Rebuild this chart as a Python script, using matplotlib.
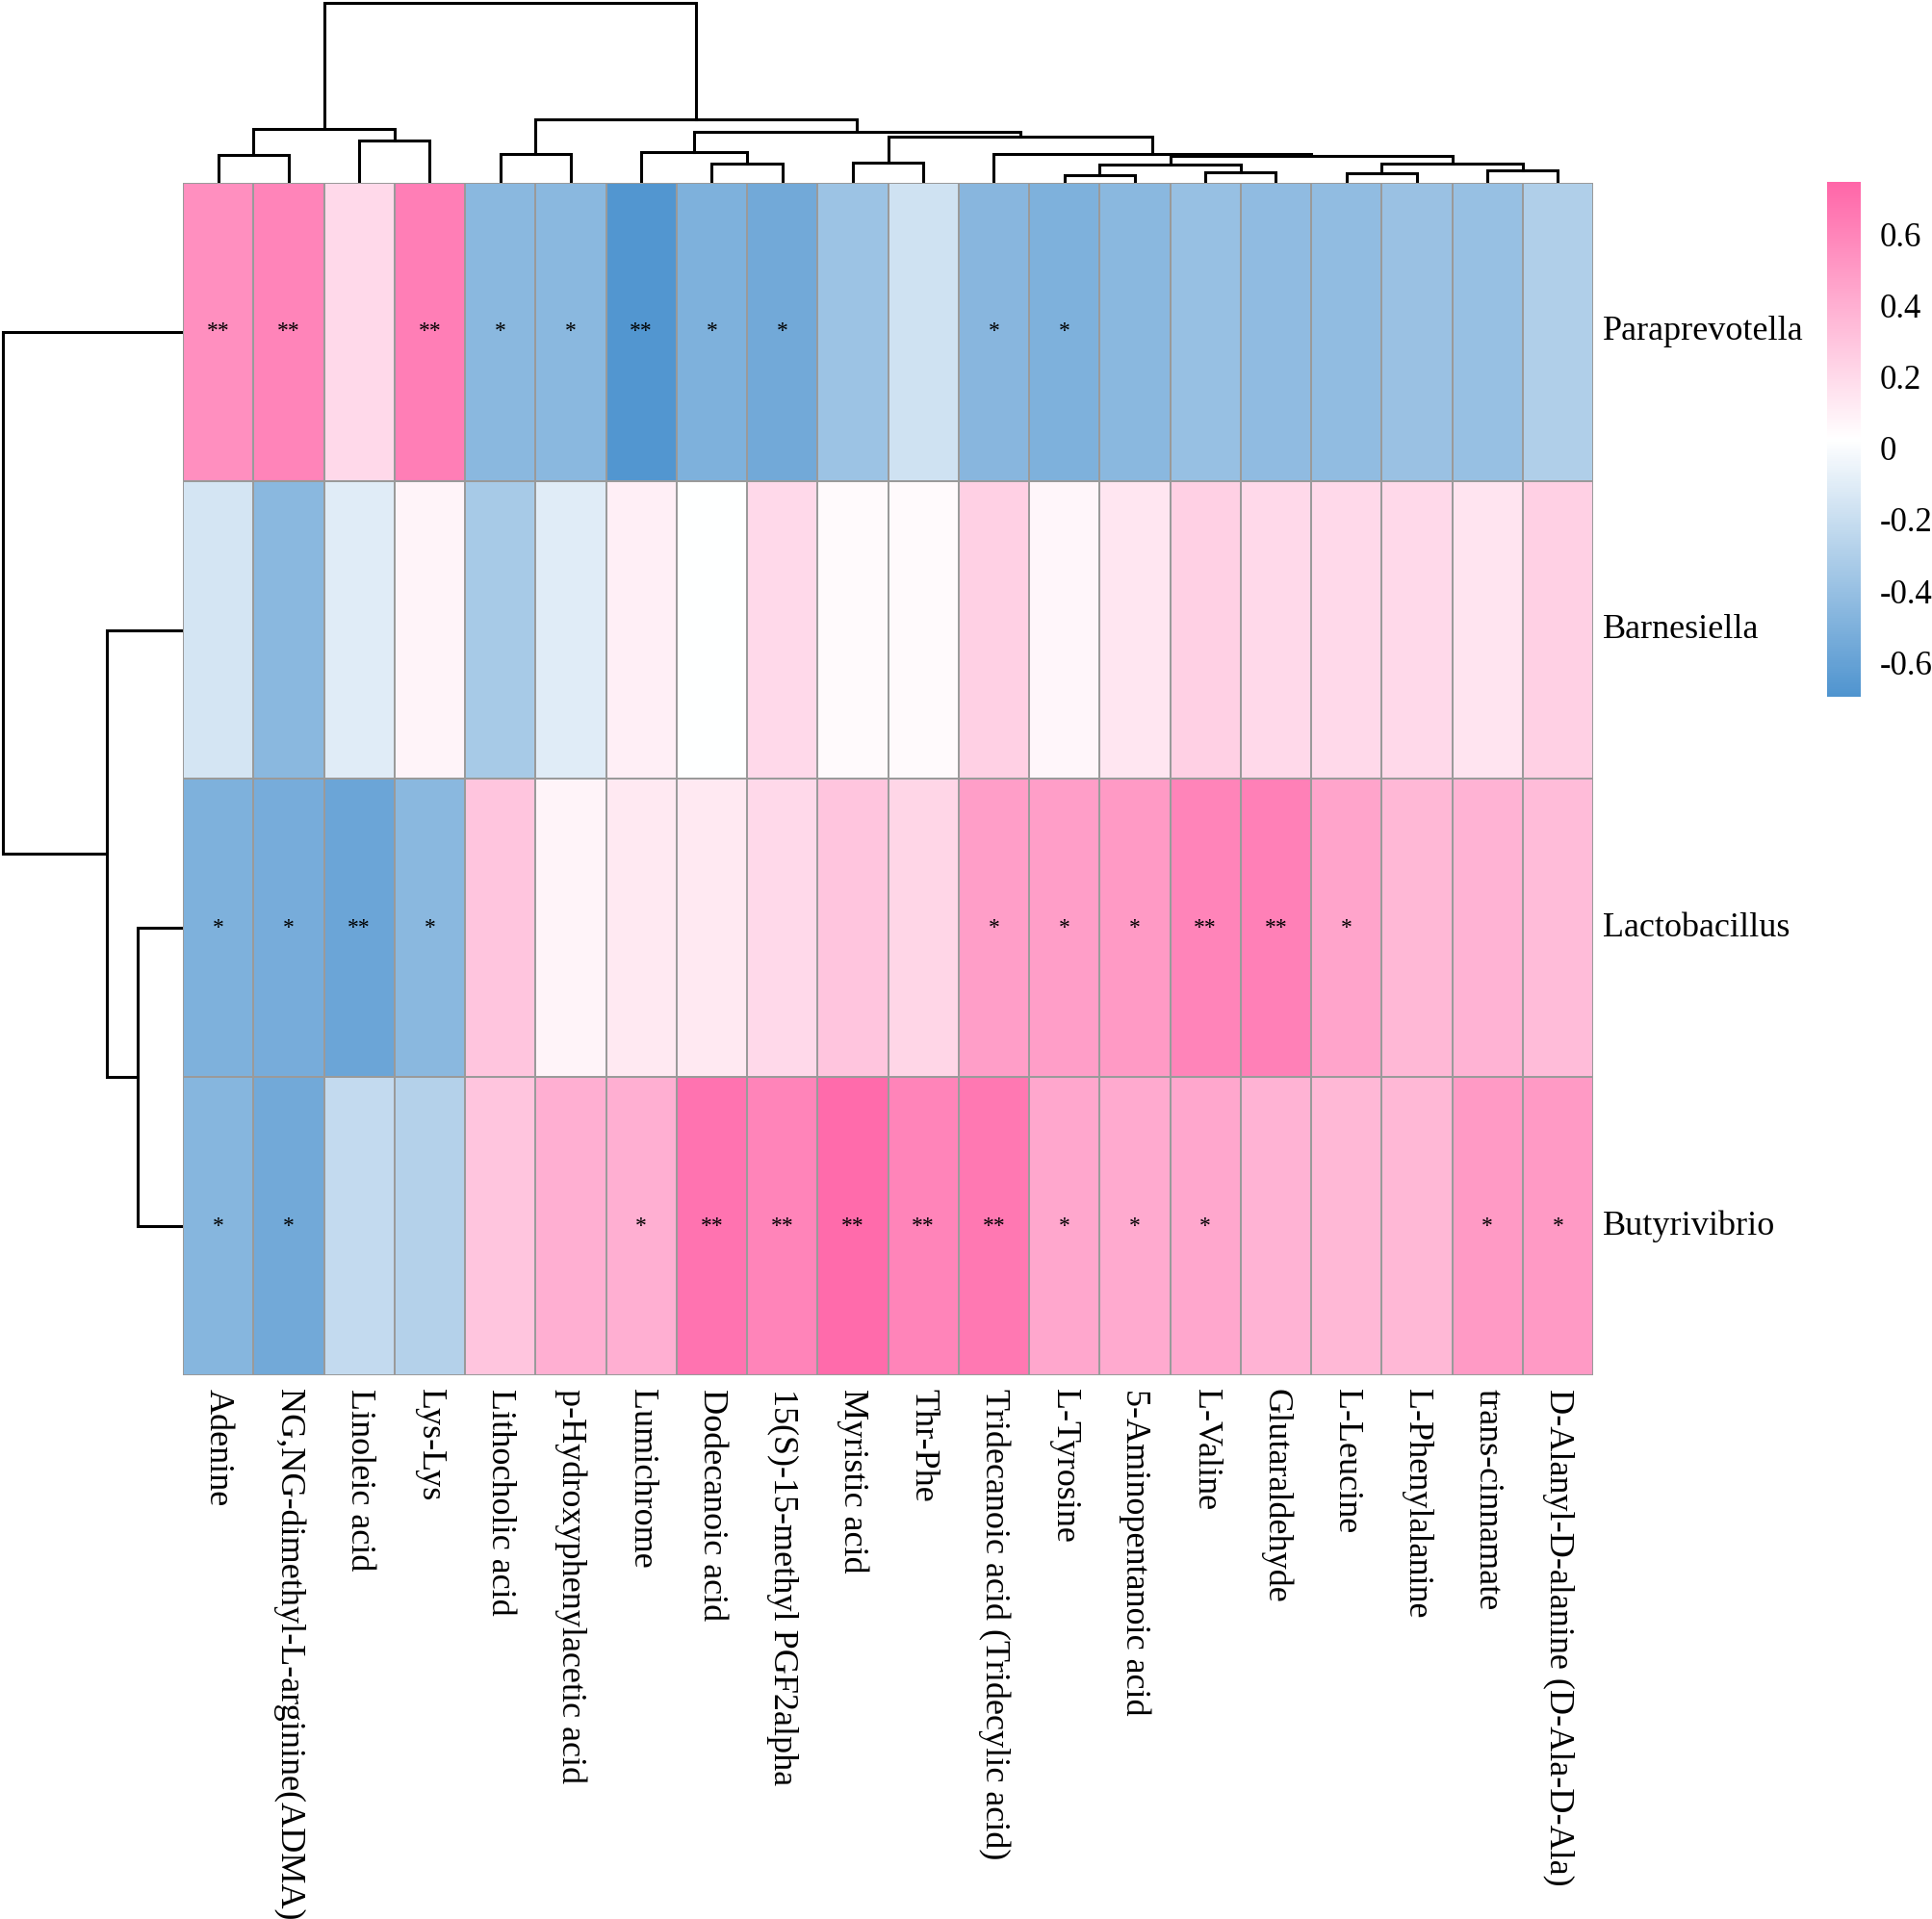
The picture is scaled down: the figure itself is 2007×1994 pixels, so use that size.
import numpy as np
import matplotlib
matplotlib.use("Agg")
import matplotlib.pyplot as plt
from matplotlib.colors import LinearSegmentedColormap, Normalize
import matplotlib.colorbar as mcolorbar

plt.rcParams['font.family'] = ['Liberation Serif', 'DejaVu Serif']

# ---------------- data ----------------
rows = ["Paraprevotella", "Barnesiella", "Lactobacillus", "Butyrivibrio"]
cols = ["Adenine", "NG,NG-dimethyl-L-arginine(ADMA)", "Linoleic acid", "Lys-Lys",
        "Lithocholic acid", "p-Hydroxyphenylacetic acid", "Lumichrome", "Dodecanoic acid",
        "15(S)-15-methyl PGF2alpha", "Myristic acid", "Thr-Phe", "Tridecanoic acid (Tridecylic acid)",
        "L-Tyrosine", "5-Aminopentanoic acid", "L-Valine", "Glutaraldehyde", "L-Leucine",
        "L-Phenylalanine", "trans-cinnamate", "D-Alanyl-D-alanine (D-Ala-D-Ala)"]

vals_paraprevotella = [0.55, 0.60, 0.20, 0.63, -0.45, -0.45, -0.68, -0.50, -0.55, -0.38,
                       -0.17, -0.46, -0.50, -0.45, -0.40, -0.43, -0.42, -0.39, -0.40, -0.30]
vals_barnesiella = [-0.15, -0.45, -0.10, 0.08, -0.33, -0.10, 0.10, 0.02, 0.20, 0.05,
                    0.05, 0.25, 0.07, 0.14, 0.25, 0.20, 0.20, 0.20, 0.15, 0.25]
vals_lactobacillus = [-0.50, -0.53, -0.58, -0.45, 0.30, 0.08, 0.13, 0.13, 0.20, 0.30,
                      0.22, 0.48, 0.48, 0.50, 0.60, 0.62, 0.45, 0.36, 0.38, 0.34]
vals_butyrivibrio = [-0.47, -0.55, -0.22, -0.28, 0.30, 0.40, 0.40, 0.68, 0.60, 0.72,
                     0.60, 0.66, 0.44, 0.42, 0.44, 0.38, 0.36, 0.36, 0.50, 0.50]

sig_paraprevotella = ["**", "**", "", "**", "*", "*", "**", "*", "*", "", "", "*", "*", "", "", "", "", "", "", ""]
sig_barnesiella = [""] * 20
sig_lactobacillus = ["*", "*", "**", "*", "", "", "", "", "", "", "", "*", "*", "*", "**", "**", "*", "", "", ""]
sig_butyrivibrio = ["*", "*", "", "", "", "", "*", "**", "**", "**", "**", "**", "*", "*", "*", "", "", "", "*", "*"]

# dendrogram merges: (child_a, child_b, height); leaves are 0..n-1, new nodes numbered from n
col_merges = [
    (0, 1, 29), (2, 3, 44), (20, 21, 56), (4, 5, 30), (7, 8, 20), (6, 24, 32),
    (9, 10, 21), (12, 13, 8), (14, 15, 11), (27, 28, 19), (16, 17, 10), (18, 19, 13),
    (30, 31, 20), (29, 32, 28), (11, 33, 30), (26, 34, 48), (25, 35, 53), (23, 36, 66),
    (22, 37, 187),
]
row_merges = [(2, 3, 47), (1, 4, 79), (0, 5, 187)]

cbar_ticks = [-0.6, -0.4, -0.2, 0.0, 0.2, 0.4, 0.6]
cbar_ticklabels = ["-0.6", "-0.4", "-0.2", "0", "0.2", "0.4", "0.6"]
vmin, vmax = -0.696, 0.746

data = np.array([vals_paraprevotella, vals_barnesiella, vals_lactobacillus, vals_butyrivibrio])
sig = [sig_paraprevotella, sig_barnesiella, sig_lactobacillus, sig_butyrivibrio]

cmap = LinearSegmentedColormap.from_list("bwp", ["#4F94CF", "#FFFFFF", "#FF66A8"], N=256)
norm = Normalize(vmin=vmin, vmax=vmax)

W, H = 2008, 1994
fig = plt.figure(figsize=(W / 100, H / 100), dpi=100)


def frac(x0, y0, x1, y1):
    return [x0 / W, 1 - y1 / H, (x1 - x0) / W, (y1 - y0) / H]


hm_l, hm_t, hm_r, hm_b = 190, 190, 1655, 1429
ax = fig.add_axes(frac(hm_l, hm_t, hm_r, hm_b))
nr, nc = data.shape
ax.pcolormesh(np.arange(nc + 1), np.arange(nr + 1), data, cmap=cmap, norm=norm,
              edgecolors="#9A9A9A", linewidth=1.2)
ax.set_xlim(0, nc)
ax.set_ylim(nr, 0)
for s in ax.spines.values():
    s.set_visible(False)
ax.set_xticks([])
ax.set_yticks([])
for i in range(nr):
    for j in range(nc):
        if sig[i][j]:
            ax.text(j + 0.5, i + 0.5, sig[i][j], ha="center", va="center",
                    fontsize=17, color="black")

# row labels
for i, r in enumerate(rows):
    ax.text(nc + 0.14, i + 0.5, r, ha="left", va="center", fontsize=26)
# column labels
for j, c in enumerate(cols):
    ax.text(j + 0.5, nr + 0.045, c, ha="center", va="top", rotation=270, fontsize=26)


def draw_dendro(axd, merges, n, orient):
    pos = {i: i + 0.5 for i in range(n)}
    hgt = {i: 0.0 for i in range(n)}
    for k, (a, b, h) in enumerate(merges):
        xa, xb = pos[a], pos[b]
        ha_, hb_ = hgt[a], hgt[b]
        if orient == "top":
            axd.plot([xa, xa, xb, xb], [ha_, h, h, hb_], color="black", lw=2.2,
                     solid_joinstyle="miter")
        else:
            axd.plot([ha_, h, h, hb_], [xa, xa, xb, xb], color="black", lw=2.2,
                     solid_joinstyle="miter")
        pos[n + k] = (xa + xb) / 2
        hgt[n + k] = h


axc = fig.add_axes(frac(hm_l, 0, hm_r, hm_t))
draw_dendro(axc, col_merges, nc, "top")
axc.set_xlim(0, nc)
axc.set_ylim(0, 190)
axc.axis("off")

axr = fig.add_axes(frac(0, hm_t, hm_l, hm_b))
draw_dendro(axr, row_merges, nr, "left")
axr.set_ylim(nr, 0)
axr.set_xlim(190, 0)
axr.axis("off")

# colorbar
cax = fig.add_axes(frac(1898, 189, 1933, 724))
cb = mcolorbar.ColorbarBase(cax, cmap=cmap, norm=norm, orientation="vertical")
cb.outline.set_visible(False)
cb.set_ticks(cbar_ticks)
cb.set_ticklabels(cbar_ticklabels)
cax.tick_params(length=0, labelsize=25, pad=14)

fig.savefig("out.png", dpi=100)
